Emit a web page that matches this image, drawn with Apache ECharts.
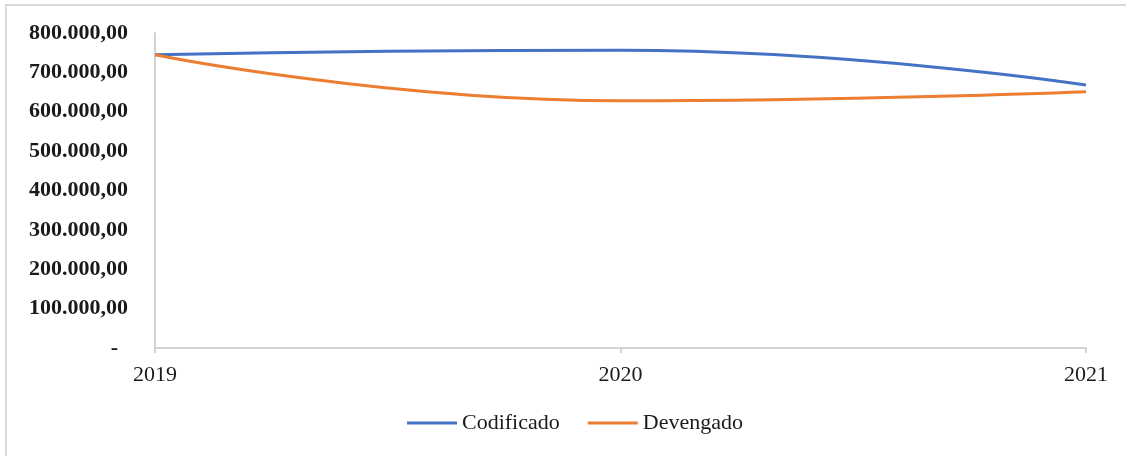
<!DOCTYPE html>
<html>
<head>
<meta charset="utf-8">
<script src="https://cdn.jsdelivr.net/npm/echarts@6/dist/echarts.min.js"></script>
<style>
html,body{margin:0;padding:0;background:#fff;}
#chart{width:1126px;height:456px;}
</style>
</head>
<body>
<div id="chart"></div>
<script>
var categories = ['2019', '2020', '2021'];
var codificado = [745000, 756000, 668000];
var devengado = [745000, 628000, 651000];
var seriesNames = ['Codificado', 'Devengado'];

function fmt(v) {
  if (v === 0) return '{d|-}';
  var s = Math.round(v).toString().replace(/\B(?=(\d{3})+(?!\d))/g, '.');
  return s + ',00';
}

var chart = echarts.init(document.getElementById('chart'), null, {renderer: 'canvas'});
chart.setOption({
  animation: false,
  backgroundColor: '#ffffff',
  graphic: [{
    type: 'rect',
    shape: {x: 6, y: 5, width: 1300, height: 600},
    style: {fill: 'none', stroke: '#d9d9d9', lineWidth: 2},
    silent: true,
    z: -1
  }],
  grid: {left: 155, right: 40, top: 33, bottom: 108},
  legend: {
    data: seriesNames,
    top: 407,
    left: 402,
    itemWidth: 50,
    itemHeight: 3,
    itemGap: 28,
    icon: 'rect',
    textStyle: {fontFamily: 'Liberation Serif', fontSize: 22, color: '#1a1a1a'}
  },
  xAxis: {
    type: 'category',
    data: categories,
    boundaryGap: false,
    axisLine: {lineStyle: {color: '#c6c6c6', width: 1.5}},
    axisTick: {show: true, length: 5, lineStyle: {color: '#c6c6c6', width: 1.5}},
    axisLabel: {fontFamily: 'Liberation Serif', fontSize: 22, color: '#1a1a1a', margin: 16}
  },
  yAxis: {
    type: 'value',
    min: 0,
    max: 800000,
    interval: 100000,
    axisLine: {show: true, lineStyle: {color: '#c6c6c6', width: 1.5}},
    axisTick: {show: false},
    splitLine: {show: false},
    axisLabel: {
      fontFamily: 'Liberation Serif', fontSize: 22, fontWeight: 'bold', color: '#1a1a1a',
      margin: 27,
      formatter: fmt,
      rich: {
        d: {fontFamily: 'Liberation Serif', fontSize: 22, fontWeight: 'bold', color: '#1a1a1a', padding: [0, 10, 0, 0]}
      }
    }
  },
  series: [
    {
      name: seriesNames[0],
      type: 'line',
      data: codificado,
      smooth: 0.5,
      symbol: 'none',
      lineStyle: {color: '#4472c4', width: 3},
      itemStyle: {color: '#4472c4'}
    },
    {
      name: seriesNames[1],
      type: 'line',
      data: devengado,
      smooth: 0.5,
      symbol: 'none',
      lineStyle: {color: '#ed7d31', width: 3},
      itemStyle: {color: '#ed7d31'}
    }
  ]
});
</script>
</body>
</html>
